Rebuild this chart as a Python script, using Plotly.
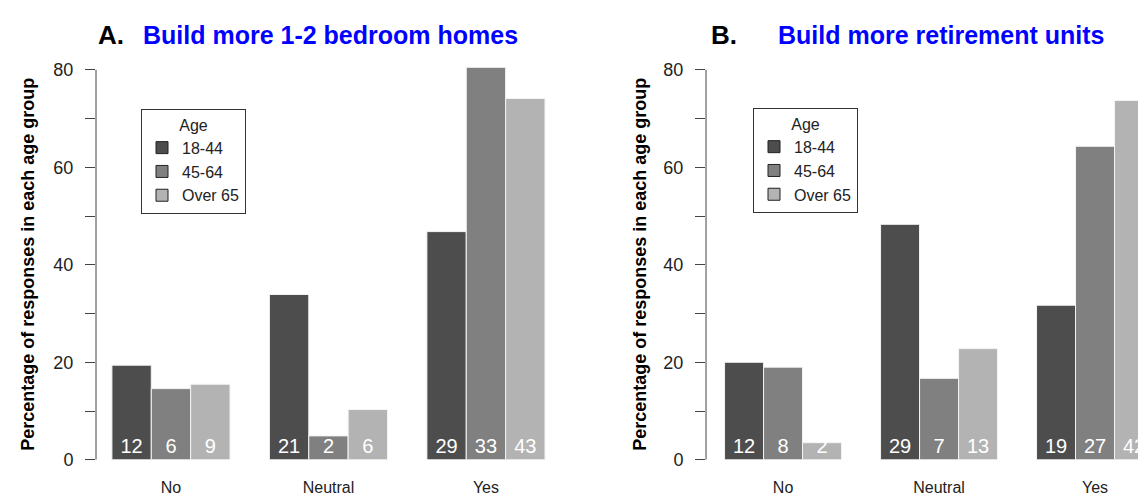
import plotly.graph_objects as go

# ---------------- data ----------------
responses = ["No", "Neutral", "Yes"]
age_groups = ["18-44", "45-64", "Over 65"]
bar_colors = ["#4d4d4d", "#808080", "#b3b3b3"]

# Panel A: Build more 1-2 bedroom homes (percent of responses, counts)
homes_pct_18_44 = [19.4, 33.9, 46.8]
homes_pct_45_64 = [14.6, 4.9, 80.5]
homes_pct_over65 = [15.5, 10.3, 74.1]
homes_n_18_44 = [12, 21, 29]
homes_n_45_64 = [6, 2, 33]
homes_n_over65 = [9, 6, 43]

# Panel B: Build more retirement units
retire_pct_18_44 = [20.0, 48.3, 31.7]
retire_pct_45_64 = [19.0, 16.7, 64.3]
retire_pct_over65 = [3.5, 22.8, 73.7]
retire_n_18_44 = [12, 29, 19]
retire_n_45_64 = [8, 7, 27]
retire_n_over65 = [2, 13, 42]

y_tickvals = [0, 10, 20, 30, 40, 50, 60, 70, 80]
y_ticktext = ["0", "", "20", "", "40", "", "60", "", "80"]

panel_letters = ["A.", "B."]
panel_titles = ["Build more 1-2 bedroom homes", "Build more retirement units"]
y_title = "Percentage of responses in each age group"
legend_title = "Age"

FONT = "Liberation Sans, Arial, sans-serif"
W, H = 1146, 500

panels = [
    dict(pct=[homes_pct_18_44, homes_pct_45_64, homes_pct_over65],
         n=[homes_n_18_44, homes_n_45_64, homes_n_over65],
         xa="x", ya="y", legend="legend"),
    dict(pct=[retire_pct_18_44, retire_pct_45_64, retire_pct_over65],
         n=[retire_n_18_44, retire_n_45_64, retire_n_over65],
         xa="x2", ya="y2", legend="legend2"),
]

fig = go.Figure()
for p in panels:
    for k, grp in enumerate(age_groups):
        fig.add_trace(go.Bar(
            x=responses, y=p["pct"][k], name=grp,
            xaxis=p["xa"], yaxis=p["ya"],
            marker=dict(color=bar_colors[k], line=dict(color="#f4f4f4", width=1)),
            text=[str(v) for v in p["n"][k]],
            textposition="inside", insidetextanchor="start",
            constraintext="none", textangle=0,
            textfont=dict(family=FONT, size=20, color="white"),
            showlegend=False, hoverinfo="skip",
        ))
    # legend entries
    for k, grp in enumerate(age_groups):
        fig.add_trace(go.Scatter(
            x=[None], y=[None], mode="markers", name=grp,
            xaxis=p["xa"], yaxis=p["ya"], legend=p["legend"],
            marker=dict(symbol="square", size=12, color=bar_colors[k],
                        line=dict(color="#222222", width=1)),
            showlegend=True,
        ))

def px2x(px):
    return px / W

def px2y(py):
    return (H - py) / H

y_dom = [px2y(461 - 84 * 4.975), px2y(461)]
y_dom = [y_dom[1], y_dom[0]]

ax_common = dict(
    tickfont=dict(family=FONT, size=16, color="#222222"),
    ticks="", showline=False, showgrid=False, zeroline=False,
    ticklabelstandoff=16, fixedrange=True,
)
yax_common = dict(
    range=[0, 84], domain=y_dom, tickvals=y_tickvals, ticktext=y_ticktext,
    ticks="outside", ticklen=10, tickcolor="#444444", tickwidth=1,
    tickfont=dict(family=FONT, size=18, color="#222222"),
    showline=False, showgrid=False, zeroline=False, ticklabelstandoff=8,
)

fig.update_layout(
    width=W, height=H,
    margin=dict(l=0, r=0, t=0, b=0),
    paper_bgcolor="white", plot_bgcolor="white",
    barmode="group", bargap=0.25, bargroupgap=0,
    font=dict(family=FONT, color="#222222"),
    xaxis=dict(domain=[px2x(88), px2x(560)], range=[-0.476, 2.521], anchor="y", **ax_common),
    yaxis=dict(anchor="x", **yax_common),
    xaxis2=dict(domain=[px2x(698), 1.0], range=[-0.494, 2.378], anchor="y2", **ax_common),
    yaxis2=dict(anchor="x2", **yax_common),
    legend=dict(x=px2x(133), y=px2y(103), xanchor="left", yanchor="top",
                bordercolor="#333333", borderwidth=1, bgcolor="white",
                font=dict(family=FONT, size=16, color="#222222"),
                title=dict(text=legend_title, side="top center",
                           font=dict(family=FONT, size=16, color="#222222")),
                tracegroupgap=0),
    legend2=dict(x=px2x(745), y=px2y(102), xanchor="left", yanchor="top",
                 bordercolor="#333333", borderwidth=1, bgcolor="white",
                 font=dict(family=FONT, size=16, color="#222222"),
                 title=dict(text=legend_title, side="top center",
                            font=dict(family=FONT, size=16, color="#222222")),
                 tracegroupgap=0),
)

# R-style axis lines spanning 0..80 only
for xd, yref in [("x domain", "y"), ("x2 domain", "y2")]:
    fig.add_shape(type="line", xref=xd, yref=yref, x0=0, x1=0,
                  y0=y_tickvals[0], y1=y_tickvals[-1],
                  line=dict(color="#444444", width=1))

# titles
letter_x = [88, 701]
title_x = [133, 768]
ytitle_x = [20, 632]
for i in range(2):
    fig.add_annotation(text="<b>" + panel_letters[i] + "</b>", xref="paper", yref="paper",
                       x=px2x(letter_x[i]), y=px2y(28), xanchor="left", yanchor="middle",
                       showarrow=False, font=dict(family=FONT, size=26, color="black"))
    fig.add_annotation(text="<b>" + panel_titles[i] + "</b>", xref="paper", yref="paper",
                       x=px2x(title_x[i]), y=px2y(28), xanchor="left", yanchor="middle",
                       showarrow=False, font=dict(family=FONT, size=25, color="#0000ff"))
    fig.add_annotation(text="<b>" + y_title + "</b>", xref="paper",
                       yref="y" if i == 0 else "y2",
                       x=px2x(ytitle_x[i]), y=40, xanchor="center", yanchor="middle",
                       textangle=-90, showarrow=False,
                       font=dict(family=FONT, size=18, color="black"))

fig.write_html("out.html")
